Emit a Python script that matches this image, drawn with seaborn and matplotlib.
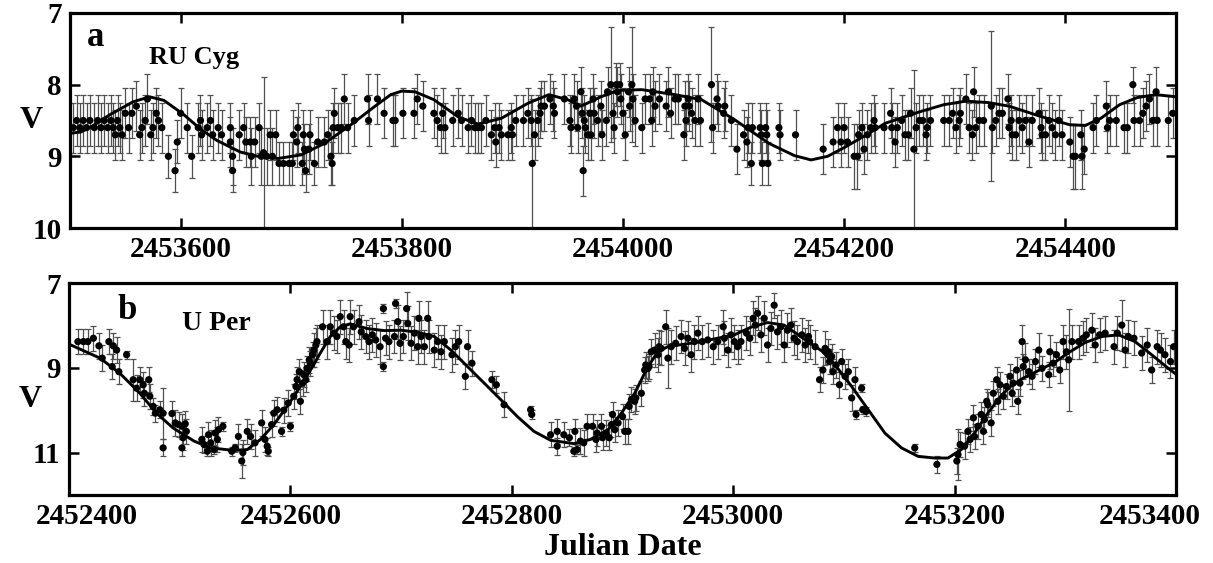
# Curvas de luz RU Cyg e U Per - V x data juliana
import numpy as np
import pandas as pd
import matplotlib
matplotlib.use("Agg")
import matplotlib.pyplot as plt
import matplotlib.transforms as mtransforms
from matplotlib.ticker import FixedLocator, StrMethodFormatter
import seaborn as sns

BASE = 2450000

# ---- RU Cyg (painel a): JD - 2450000, magnitude V, erro ----
jd_ru = [3500, 3503, 3506, 3509, 3512, 3515, 3518, 3522, 3525, 3528, 3531, 3534, 3537, 3539, 3541,
         3543, 3545, 3547, 3550, 3553, 3556, 3560, 3563, 3565, 3568, 3570, 3573, 3575, 3578, 3580,
         3583, 3589, 3595, 3597, 3600, 3606, 3610, 3616, 3618, 3619, 3624, 3627, 3629, 3634, 3637,
         3645, 3645, 3647, 3647, 3653, 3657, 3659, 3663, 3664, 3667, 3671, 3673, 3675, 3678, 3681,
         3683, 3686, 3689, 3693, 3698, 3701, 3702, 3705, 3706, 3710, 3711, 3712, 3713, 3716, 3717,
         3721, 3724, 3730, 3733, 3736, 3737, 3738, 3739, 3742, 3745, 3748, 3751, 3757, 3769, 3770,
         3778, 3784, 3792, 3794, 3801, 3811, 3814, 3819, 3829, 3832, 3835, 3837, 3839, 3846, 3851,
         3854, 3860, 3863, 3866, 3869, 3872, 3876, 3881, 3884, 3885, 3888, 3890, 3896, 3899, 3900,
         3903, 3910, 3914, 3917, 3918, 3920, 3923, 3925, 3926, 3929, 3934, 3937, 3938, 3947, 3952,
         3953, 3956, 3958, 3959, 3962, 3963, 3964, 3965, 3966, 3968, 3970, 3971, 3973, 3974, 3977,
         3980, 3981, 3985, 3986, 3989, 3991, 3992, 3994, 3995, 3997, 3998, 4000, 4002, 4005, 4006,
         4008, 4009, 4011, 4017, 4020, 4024, 4026, 4027, 4029, 4033, 4039, 4041, 4043, 4047, 4050,
         4055, 4056, 4057, 4059, 4060, 4062, 4065, 4068, 4070, 4080, 4081, 4085, 4086, 4091, 4092,
         4098, 4103, 4109, 4112, 4113, 4116, 4117, 4124, 4125, 4126, 4129, 4130, 4131, 4141, 4142,
         4156, 4181, 4190, 4194, 4197, 4200, 4203, 4209, 4212, 4213, 4216, 4218, 4221, 4224, 4227,
         4228, 4236, 4242, 4243, 4246, 4248, 4252, 4255, 4258, 4260, 4263, 4265, 4268, 4271, 4274,
         4275, 4278, 4290, 4295, 4298, 4301, 4304, 4305, 4310, 4313, 4316, 4317, 4319, 4322, 4326,
         4333, 4334, 4337, 4340, 4343, 4348, 4349, 4351, 4352, 4355, 4358, 4361, 4364, 4367, 4370,
         4376, 4378, 4379, 4382, 4385, 4388, 4391, 4394, 4397, 4404, 4407, 4409, 4414, 4415, 4417,
         4425, 4428, 4437, 4438, 4440, 4446, 4453, 4456, 4461, 4462, 4467, 4470, 4473, 4476, 4479,
         4482, 4483, 4493, 4497]
v_ru = [8.6, 8.6, 8.5, 8.6, 8.5, 8.6, 8.5, 8.6, 8.5, 8.6, 8.5, 8.6, 8.5, 8.6, 8.7,
        8.5, 8.6, 8.7, 8.4, 8.6, 8.4, 8.3, 8.7, 8.6, 8.5, 8.2, 8.7, 8.6, 8.4, 8.5,
        8.6, 9.0, 9.2, 8.8, 8.4, 8.6, 9.0, 8.6, 8.5, 8.7, 8.6, 8.5, 8.7, 8.6, 8.7,
        8.6, 8.8, 9.0, 9.2, 8.7, 8.6, 8.8, 8.8, 9.0, 8.8, 8.6, 9.0, 8.95, 9.0, 8.7,
        9.0, 8.7, 9.1, 9.1, 9.1, 9.1, 8.7, 8.8, 8.6, 9.1, 8.7, 8.9, 9.2, 8.9, 8.7,
        9.1, 8.8, 8.8, 8.7, 9.0, 9.1, 8.6, 8.4, 8.6, 8.6, 8.2, 8.6, 8.5, 8.2, 8.5,
        8.2, 8.4, 8.5, 8.5, 8.4, 8.4, 8.2, 8.3, 8.4, 8.5, 8.6, 8.4, 8.6, 8.5, 8.4,
        8.5, 8.6, 8.5, 8.6, 8.6, 8.6, 8.5, 8.7, 8.6, 8.8, 8.6, 8.7, 8.7, 8.6, 8.7,
        8.5, 8.5, 8.4, 8.5, 9.1, 8.7, 8.5, 8.4, 8.3, 8.3, 8.2, 8.3, 8.4, 8.2, 8.5,
        8.6, 8.2, 8.3, 8.6, 8.1, 8.4, 9.2, 8.5, 8.6, 8.7, 8.4, 8.7, 8.2, 8.4, 8.5,
        8.3, 8.7, 8.5, 8.1, 8.0, 8.4, 8.6, 8.0, 8.1, 8.0, 8.2, 8.4, 8.7, 8.1, 8.3,
        8.0, 8.2, 8.5, 8.6, 8.2, 8.2, 8.5, 8.1, 8.3, 8.2, 8.3, 8.1, 8.4, 8.2, 8.2,
        8.7, 8.3, 8.5, 8.2, 8.3, 8.4, 8.5, 8.2, 8.5, 8.0, 8.6, 8.2, 8.3, 8.4, 8.3,
        8.5, 8.9, 8.7, 8.8, 8.6, 9.1, 8.6, 8.6, 8.7, 9.1, 8.6, 8.7, 9.1, 8.6, 8.7,
        8.7, 8.9, 8.8, 8.6, 8.8, 8.6, 8.8, 9.0, 9.0, 8.7, 8.6, 8.9, 8.7, 8.6, 8.5,
        8.6, 8.6, 8.4, 8.6, 8.8, 8.6, 8.5, 8.7, 8.7, 8.4, 8.9, 8.6, 8.5, 8.5, 8.7,
        8.6, 8.5, 8.5, 8.5, 8.4, 8.6, 8.5, 8.4, 8.2, 8.6, 8.7, 8.1, 8.6, 8.5, 8.5,
        8.3, 8.6, 8.5, 8.4, 8.4, 8.2, 8.6, 8.5, 8.7, 8.7, 8.5, 8.6, 8.5, 8.8, 8.5,
        8.4, 8.6, 8.7, 8.7, 8.5, 8.6, 8.7, 8.5, 8.7, 8.8, 9.0, 9.0, 8.7, 9.0, 8.9,
        8.6, 8.5, 8.3, 8.6, 8.5, 8.5, 8.6, 8.6, 8.0, 8.5, 8.5, 8.4, 8.3, 8.2, 8.5,
        8.1, 8.5, 8.5, 8.4]
err_ru = [.35, .35, .35, .35, .35, .35, .35, .35, .35, .35, .35, .35, .35, .35, .35,
          .35, .35, .35, .35, .35, .35, .35, .35, .35, .35, .35, .35, .35, .35, .35,
          .35, .3, .3, .3, .35, .35, .3, .35, .35, .35, .35, .35, .35, .35, .35,
          .35, .35, .4, .3, .35, .35, .35, .35, .4, .35, .35, .4, 1.05, .4, .35,
          .4, .35, .3, .3, .3, .3, .35, .35, .35, .3, .35, .35, .3, .35, .35,
          .3, .35, .35, .35, .4, .3, .35, .35, .35, .35, .35, .35, .35, .35, .35,
          .35, .35, .35, .35, .35, .35, .35, .35, .35, .35, .35, .35, .35, .35, .35,
          .35, .35, .35, .35, .35, .35, .35, .35, .35, .35, .35, .35, .35, .35, .35,
          .35, .35, .35, .35, .9, .35, .35, .35, .35, .35, .35, .35, .35, .35, .35,
          .35, .35, .35, .35, .35, .35, .35, .35, .35, .35, .35, .35, .35, .35, .35,
          .35, .35, .35, .35, .8, .35, .35, .3, .35, .3, .35, .35, .35, .35, .35,
          .8, .35, .35, .35, .35, .35, .35, .35, .35, .35, .35, .35, .35, .35, .35,
          .35, .35, .35, .35, .35, .35, .35, .35, .35, .8, .35, .35, .35, .35, .35,
          .35, .35, .35, .35, .35, .3, .35, .35, .35, .3, .35, .35, .3, .35, .35,
          .35, .35, .35, .35, .35, .35, .35, .45, .45, .35, .35, .35, .35, .35, .35,
          .35, .35, .35, .35, .35, .35, .35, .35, .35, .35, 1.1, .35, .35, .35, .35,
          .35, .35, .35, .35, .35, .35, .35, .35, .35, .35, .35, .35, .35, .35, .35,
          1.05, .35, .35, .35, .35, .35, .35, .35, .35, .35, .35, .35, .35, .35, .35,
          .35, .35, .35, .35, .35, .35, .35, .35, .35, .35, .45, .45, .35, .45, .35,
          .35, .35, .35, .35, .35, .35, .35, .35, .25, .35, .35, .35, .35, .35, .35,
          .35, .35, .35, .35]

# ajuste (curva) RU Cyg
fit_jd_ru = [3500, 3510, 3520, 3536, 3557, 3572, 3585, 3603, 3618, 3633, 3654, 3670, 3688, 3709,
             3730, 3754, 3775, 3790, 3800, 3812, 3829, 3851, 3869, 3890, 3914, 3933, 3950, 3962,
             3980, 3996, 4017, 4047, 4071, 4101, 4132, 4155, 4170, 4185, 4201, 4220, 4237, 4268,
             4290, 4310, 4330, 4349, 4379, 4404, 4418, 4432, 4449, 4465, 4482, 4500]
fit_v_ru = [8.68, 8.66, 8.58, 8.42, 8.24, 8.17, 8.22, 8.42, 8.62, 8.78, 8.94, 9.0, 9.03, 8.98,
            8.82, 8.56, 8.31, 8.14, 8.09, 8.1, 8.21, 8.45, 8.55, 8.47, 8.26, 8.14, 8.21, 8.30,
            8.17, 8.08, 8.07, 8.14, 8.21, 8.49, 8.82, 8.99, 9.05, 9.0, 8.87, 8.70, 8.54, 8.38,
            8.28, 8.23, 8.25, 8.30, 8.45, 8.56, 8.57, 8.47, 8.28, 8.18, 8.14, 8.17]

# ---- U Per (painel b) ----
jd_up = [2408, 2413, 2417, 2422, 2427, 2430, 2436, 2439, 2440, 2443, 2445, 2452, 2458, 2461, 2464,
         2467, 2468, 2472, 2473, 2476, 2478, 2482, 2485, 2485, 2493, 2496, 2499, 2502, 2502, 2503,
         2505, 2506, 2520, 2522, 2525, 2526, 2528, 2531, 2532, 2534, 2535, 2539, 2547, 2550, 2553,
         2556, 2557, 2561, 2564, 2568, 2574, 2577, 2579, 2580, 2583, 2585, 2588, 2592, 2594, 2598,
         2600, 2603, 2605, 2606, 2608, 2609, 2611, 2612, 2614, 2615, 2617, 2618, 2620, 2621, 2623,
         2624, 2629, 2633, 2636, 2639, 2642, 2645, 2648, 2650, 2653, 2654, 2657, 2662, 2664, 2668,
         2671, 2674, 2677, 2681, 2684, 2684, 2686, 2689, 2694, 2695, 2697, 2699, 2702, 2705, 2706,
         2709, 2712, 2715, 2716, 2718, 2721, 2724, 2725, 2730, 2733, 2736, 2739, 2746, 2749, 2752,
         2758, 2760, 2764, 2782, 2786, 2793, 2817, 2818, 2835, 2841, 2841, 2847, 2852, 2856, 2857,
         2859, 2862, 2865, 2868, 2873, 2876, 2877, 2881, 2882, 2885, 2888, 2890, 2891, 2893, 2896,
         2900, 2902, 2905, 2906, 2908, 2911, 2912, 2917, 2920, 2921, 2923, 2924, 2926, 2929, 2932,
         2933, 2935, 2939, 2941, 2944, 2948, 2953, 2956, 2959, 2962, 2965, 2968, 2972, 2977, 2982,
         2986, 2991, 2992, 2995, 2998, 3001, 3004, 3007, 3012, 3015, 3018, 3020, 3022, 3025, 3028,
         3031, 3034, 3037, 3040, 3043, 3046, 3049, 3052, 3055, 3058, 3062, 3065, 3068, 3069, 3074,
         3078, 3081, 3083, 3086, 3087, 3089, 3090, 3093, 3096, 3098, 3101, 3104, 3107, 3110, 3111,
         3116, 3117, 3120, 3164, 3184, 3202, 3203, 3205, 3209, 3212, 3214, 3217, 3218, 3221, 3224,
         3226, 3227, 3229, 3230, 3233, 3235, 3238, 3239, 3241, 3244, 3247, 3250, 3252, 3253, 3256,
         3257, 3259, 3261, 3262, 3264, 3267, 3270, 3273, 3276, 3279, 3285, 3286, 3289, 3292, 3295,
         3298, 3301, 3303, 3306, 3312, 3316, 3319, 3324, 3327, 3331, 3336, 3344, 3347, 3351, 3354,
         3357, 3362, 3369, 3374, 3378, 3383, 3386, 3390, 3395, 3398]
v_up = [8.38, 8.38, 8.38, 8.30, 8.48, 8.77, 8.38, 8.97, 8.48, 8.58, 9.09, 8.69, 9.28, 9.48, 9.28,
        9.40, 9.60, 9.28, 9.67, 9.91, 10.07, 9.99, 10.89, 10.07, 10.08, 10.30, 10.34, 10.38, 10.89, 10.65,
        10.32, 10.50, 10.69, 10.81, 10.97, 10.58, 10.77, 10.93, 10.54, 10.69, 10.46, 10.38, 10.97, 10.89, 10.62,
        11.20, 11.00, 10.50, 10.62, 10.77, 10.30, 10.69, 10.85, 10.97, 10.34, 10.07, 9.99, 10.50, 10.00, 9.83,
        10.38, 9.67, 9.44, 9.28, 9.09, 9.79, 9.36, 9.16, 9.28, 9.01, 8.81, 8.89, 8.69, 8.58, 8.46,
        8.38, 8.03, 8.38, 8.03, 8.18, 8.26, 7.79, 8.03, 8.38, 8.46, 7.79, 8.03, 7.91, 8.15, 8.26,
        8.38, 8.22, 8.34, 8.50, 7.60, 8.97, 8.30, 8.38, 8.26, 7.48, 7.91, 8.42, 8.26, 7.60, 7.95,
        8.42, 8.18, 8.50, 7.83, 8.26, 8.50, 7.83, 8.26, 8.58, 8.38, 8.62, 8.38, 8.69, 8.50, 8.38,
        9.20, 8.50, 8.89, 9.28, 9.40, 9.87, 9.99, 10.10, 10.58, 10.50, 10.85, 10.58, 10.65, 10.97, 10.50,
        10.93, 10.73, 10.77, 10.38, 10.38, 10.69, 10.54, 10.38, 10.65, 10.54, 10.65, 10.34, 10.10, 10.46, 10.30,
        10.15, 10.50, 10.50, 9.91, 9.75, 9.79, 9.71, 9.60, 9.05, 8.93, 9.01, 8.97, 8.62, 8.58, 8.69,
        8.50, 8.54, 8.03, 8.77, 8.50, 8.42, 8.26, 8.54, 8.30, 8.69, 8.38, 8.18, 8.38, 8.34, 8.50,
        8.38, 8.03, 8.30, 8.58, 8.22, 8.38, 8.50, 8.38, 8.18, 8.30, 7.83, 7.99, 7.71, 8.22, 7.83,
        8.46, 8.07, 7.52, 8.15, 8.03, 8.46, 8.11, 7.99, 8.30, 8.38, 8.22, 8.46, 8.26, 8.38, 8.50,
        9.28, 9.05, 8.54, 8.62, 8.85, 8.73, 9.09, 8.93, 9.40, 8.85, 9.20, 9.09, 9.71, 9.28, 10.10,
        9.48, 9.99, 10.03, 10.89, 11.28, 11.20, 11.05, 10.81, 10.85, 10.50, 10.69, 10.18, 10.62, 10.38, 10.10,
        10.50, 10.22, 9.79, 9.87, 10.30, 9.60, 9.28, 9.79, 9.40, 9.67, 9.44, 9.20, 9.60, 9.36, 9.05,
        9.79, 9.36, 8.38, 8.97, 8.81, 9.09, 9.20, 8.85, 8.58, 9.01, 9.16, 8.62, 8.89, 8.69, 9.05,
        8.38, 8.62, 8.81, 8.38, 8.38, 8.30, 8.22, 8.11, 8.46, 8.22, 8.18, 8.50, 8.18, 7.99, 8.58,
        8.26, 8.30, 8.65, 8.46, 9.05, 8.50, 8.58, 8.69, 8.85, 8.50]
err_up = [.3, .3, .3, .3, .3, .3, .3, .3, .3, .3, .3, .1, .5, .3, .3,
          .3, .3, .3, .3, .2, .2, .2, .2, .6, .3, .3, .3, .3, .2, .3,
          .3, .3, .3, .2, .1, .3, .3, .1, .3, .3, .3, .1, .1, .1, .3,
          .4, .3, .3, .3, .3, .3, .3, .2, .1, .3, .3, .3, .1, .3, .3,
          .1, .3, .3, .3, .3, .3, .3, .3, .3, .3, .3, .3, .3, .4, .4,
          .4, .4, .4, .4, .4, .4, .4, .4, .4, .4, .4, .4, .4, .4, .4,
          .4, .4, .4, .4, .1, .1, .4, .4, .4, .1, .4, .4, .4, .4, .4,
          .4, .4, .4, .4, .4, .4, .4, .4, .4, .4, .4, .4, .4, .4, .4,
          .3, .4, .3, .2, .2, .3, .1, .1, .3, .3, .2, .3, .2, .1, .3,
          .1, .3, .3, .3, .3, .3, .3, .3, .3, .3, .3, .3, .3, .3, .3,
          .3, .3, .3, .3, .3, .3, .3, .3, .3, .3, .3, .3, .3, .4, .4,
          .4, .4, .4, .7, .4, .4, .4, .4, .4, .4, .4, .4, .4, .4, .4,
          .4, .4, .4, .4, .4, .4, .4, .4, .4, .4, .4, .4, .4, .4, .4,
          .4, .4, .3, .4, .4, .4, .4, .4, .4, .4, .4, .4, .4, .4, .4,
          .3, .3, .4, .3, .3, .3, .3, .3, .3, .3, .3, .3, .3, .3, .1,
          .1, .1, .1, .1, .2, .3, .6, .3, .3, .3, .3, .3, .3, .3, .3,
          .3, .3, .3, .3, .3, .3, .3, .3, .3, .3, .3, .3, .3, .3, .3,
          .3, .3, .4, .3, .4, .3, .3, .3, .4, .3, .3, .4, .3, .3, .3,
          .4, .4, 1.2, .4, .4, .4, .4, .4, .4, .4, .4, .4, .4, .6, .4,
          .4, .4, .4, .4, .3, .4, .4, .4, .4, .4]

# ajuste (curva) U Per
fit_jd_up = [2400, 2428, 2446, 2464, 2479, 2494, 2513, 2528, 2549, 2561, 2573, 2585, 2597, 2609,
             2621, 2627, 2636, 2645, 2654, 2669, 2685, 2700, 2715, 2730, 2745, 2760, 2775, 2790,
             2805, 2820, 2835, 2856, 2871, 2887, 2899, 2911, 2923, 2932, 2941, 2971, 3001, 3016,
             3031, 3046, 3062, 3080, 3092, 3107, 3122, 3137, 3152, 3167, 3182, 3194, 3206, 3218,
             3230, 3242, 3250, 3260, 3273, 3291, 3303, 3318, 3333, 3348, 3363, 3378, 3393, 3400]
fit_v_up = [8.44, 8.77, 9.13, 9.60, 10.07, 10.42, 10.73, 10.89, 10.95, 10.93, 10.69, 10.34, 9.91, 9.44,
            8.93, 8.65, 8.26, 8.03, 7.96, 8.07, 8.12, 8.11, 8.16, 8.26, 8.58, 8.97, 9.36, 9.75,
            10.15, 10.50, 10.71, 10.79, 10.69, 10.46, 10.07, 9.60, 8.97, 8.62, 8.50, 8.38, 8.22, 8.04,
            7.93, 7.99, 8.28, 8.60, 8.93, 9.44, 9.99, 10.54, 10.89, 11.09, 11.13, 11.13, 10.93, 10.54,
            10.07, 9.66, 9.45, 9.27, 9.10, 8.86, 8.64, 8.40, 8.26, 8.22, 8.38, 8.69, 9.01, 9.15]

xticks_ru = [2453600, 2453800, 2454000, 2454200, 2454400]
xticks_up = [2452400, 2452600, 2452800, 2453000, 2453200, 2453400]

sns.set_theme(style="ticks")
plt.rcParams['font.family'] = ['Liberation Serif', 'DejaVu Serif']
plt.rcParams['font.weight'] = 'bold'
plt.rcParams['axes.labelweight'] = 'bold'
plt.rcParams['text.color'] = 'black'
plt.rcParams['axes.labelcolor'] = 'black'

fig = plt.figure(figsize=(12.13, 5.63), dpi=100)
ax_a = fig.add_axes([0.0577, 0.595, 0.9118, 0.382])
ax_b = fig.add_axes([0.0569, 0.121, 0.9126, 0.376])


def painel(ax, jd, v, err, fjd, fv):
    x = np.array(jd) + BASE
    ax.errorbar(x, v, yerr=err, fmt='none', ecolor='#505050', elinewidth=0.9,
                capsize=2.4, capthick=0.9, zorder=1)
    sns.scatterplot(x=x, y=v, ax=ax, color='black', s=27, edgecolor='none',
                    linewidth=0, zorder=3, legend=False)
    sns.lineplot(x=np.array(fjd) + BASE, y=fv, ax=ax, color='black', lw=2.1,
                 estimator=None, sort=False, zorder=4)
    for sp in ax.spines.values():
        sp.set_linewidth(2.3)
        sp.set_color('black')
    ax.tick_params(direction='in', top=True, right=True, length=7, width=1.8,
                   labelsize=21, pad=6, colors='black')
    ax.xaxis.set_major_formatter(StrMethodFormatter('{x:.0f}'))
    ax.set_ylabel('V', fontsize=23, rotation=0, labelpad=14, va='center', color='black')
    ax.set_facecolor('white')


painel(ax_a, jd_ru, v_ru, err_ru, fit_jd_ru, fit_v_ru)
ax_a.set_xlim(2453500, 2454500)
ax_a.set_ylim(10, 7)
ax_a.xaxis.set_major_locator(FixedLocator(xticks_ru))
ax_a.set_yticks([7, 8, 9, 10])
ax_a.set_xlabel('')
ax_a.text(0.015, 0.885, 'a', transform=ax_a.transAxes, fontsize=25, va='center', ha='left')
ax_a.text(0.071, 0.795, 'RU Cyg', transform=ax_a.transAxes, fontsize=19, va='center', ha='left')
ax_a.yaxis.set_label_coords(-0.035, 0.5)

painel(ax_b, jd_up, v_up, err_up, fit_jd_up, fit_v_up)
ax_b.set_xlim(2452400, 2453400)
ax_b.set_ylim(12, 7)
ax_b.xaxis.set_major_locator(FixedLocator(xticks_up))
ax_b.set_yticks([7, 9, 11])
ax_b.set_xlabel('Julian Date', fontsize=23, labelpad=2, color='black')
ax_b.text(0.044, 0.873, 'b', transform=ax_b.transAxes, fontsize=25, va='center', ha='left')
ax_b.text(0.102, 0.81, 'U Per', transform=ax_b.transAxes, fontsize=20, va='center', ha='left')
ax_b.yaxis.set_label_coords(-0.035, 0.45)

# rotulos das pontas deslocados para dentro, como no original
labs = ax_b.get_xticklabels()
desloc = {0: 13, len(labs) - 1: -19}
for i, dx in desloc.items():
    off = mtransforms.ScaledTranslation(dx / 72, 0, fig.dpi_scale_trans)
    labs[i].set_transform(labs[i].get_transform() + off)

fig.savefig('out.png', dpi=100, facecolor='white')
